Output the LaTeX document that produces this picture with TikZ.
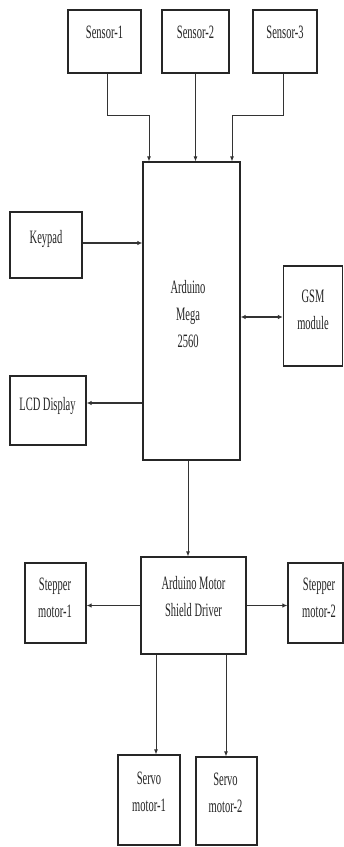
\documentclass[tikz,border=0pt]{standalone}
\usepackage{fontspec}
\setmainfont{Liberation Serif}
\usepackage{graphicx}
\usetikzlibrary{arrows.meta}
\newcommand{\vtxt}[1]{\scalebox{1}[1.8]{\begin{tabular}{@{}c@{}}#1\end{tabular}}}
\begin{document}
\begin{tikzpicture}[x=1pt,y=-1pt,
  box/.style={draw=black!85, line width=1.3pt, inner sep=0pt, rectangle},
  lbl/.style={inner sep=0pt, font=\fontsize{10.5}{15}\selectfont, text=black!85},
  conn/.style={draw=black!80, line width=0.8pt},
  hconn/.style={draw=black!80, line width=1.3pt},
  arr/.style={conn, -{Latex[length=5pt,width=4pt]}},
  harr/.style={hconn, -{Latex[length=5pt,width=4.5pt]}},
  darr/.style={hconn, {Latex[length=5pt,width=4.5pt]}-{Latex[length=5pt,width=4.5pt]}}]
\useasboundingbox (0,0) rectangle (344,847);
\fill[white] (0,0) rectangle (344,847);
% boxes
\node[box, minimum width=73pt, minimum height=63pt] (s1) at (104.5,41.5) {};
\node[box, minimum width=67pt, minimum height=63pt] (s2) at (195.5,41.5) {};
\node[box, minimum width=64pt, minimum height=63pt] (s3) at (285,41.5) {};
\node[box, minimum width=97pt, minimum height=298pt] (main) at (191.5,311) {};
\node[box, minimum width=72pt, minimum height=66pt] (kp) at (46,245) {};
\node[box, minimum width=59pt, minimum height=100pt] (gsm) at (313,316) {};
\node[box, minimum width=76pt, minimum height=69pt] (lcd) at (48,410.5) {};
\node[box, minimum width=105pt, minimum height=97pt] (sh) at (193.5,605.5) {};
\node[box, minimum width=61pt, minimum height=80pt] (st1) at (55.5,603) {};
\node[box, minimum width=55pt, minimum height=80pt] (st2) at (315.5,603) {};
\node[box, minimum width=62pt, minimum height=90pt] (sv1) at (149,800) {};
\node[box, minimum width=61pt, minimum height=88pt] (sv2) at (226.5,801) {};
% labels
\node[lbl] (s1t) at (104.5,33) {\vtxt{Sensor-1}};
\node[lbl] (s2t) at (195.5,33) {\vtxt{Sensor-2}};
\node[lbl] (s3t) at (285,33) {\vtxt{Sensor-3}};
\node[lbl] (kpt) at (46,238) {\vtxt{Keypad}};
\node[lbl] (lcdt) at (47.5,405) {\vtxt{LCD Display}};
\node[lbl] (gsmt) at (313,311) {\vtxt{GSM\\module}};
\node[lbl] (maint) at (188,315) {\vtxt{Arduino\\Mega\\2560}};
\node[lbl] (sht) at (193.5,597.5) {\vtxt{Arduino Motor\\Shield Driver}};
\node[lbl] (st1t) at (55,599) {\vtxt{Stepper\\motor-1}};
\node[lbl] (st2t) at (319,599) {\vtxt{Stepper\\motor-2}};
\node[lbl] (sv1t) at (149,792.5) {\vtxt{Servo\\motor-1}};
\node[lbl] (sv2t) at (225.5,793.5) {\vtxt{Servo\\motor-2}};
% coordinates
\coordinate (j1) at (107,115);
\coordinate (j1b) at (149,115);
\coordinate (j3) at (283,115);
\coordinate (j3b) at (232,115);
% connectors
\draw[arr] (s1.south -| j1) -- (j1) -- (j1b) -- (j1b |- main.north);
\draw[arr] (s2.south) -- (s2.south |- main.north);
\draw[arr] (s3.south -| j3) -- (j3) -- (j3b) -- (j3b |- main.north);
\coordinate (kpy) at (0,243);
\draw[harr] (kp.east |- kpy) -- (main.west |- kpy);
\coordinate (lcdy) at (0,403);
\draw[harr] (main.west |- lcdy) -- (lcd.east |- lcdy);
\coordinate (gy) at (0,317);
\draw[darr] (main.east |- gy) -- (gsm.west |- gy);
\coordinate (mx) at (188,0);
\draw[arr] (main.south -| mx) -- (sh.north -| mx);
\draw[harr] (sh.west) -- (st1.east |- sh.west);
\draw[harr] (sh.east) -- (st2.west |- sh.east);
\coordinate (v1) at (156,0);
\coordinate (v2) at (226,0);
\draw[arr] (sh.south -| v1) -- (sv1.north -| v1);
\draw[arr] (sh.south -| v2) -- (sv2.north -| v2);
\end{tikzpicture}
\end{document}
